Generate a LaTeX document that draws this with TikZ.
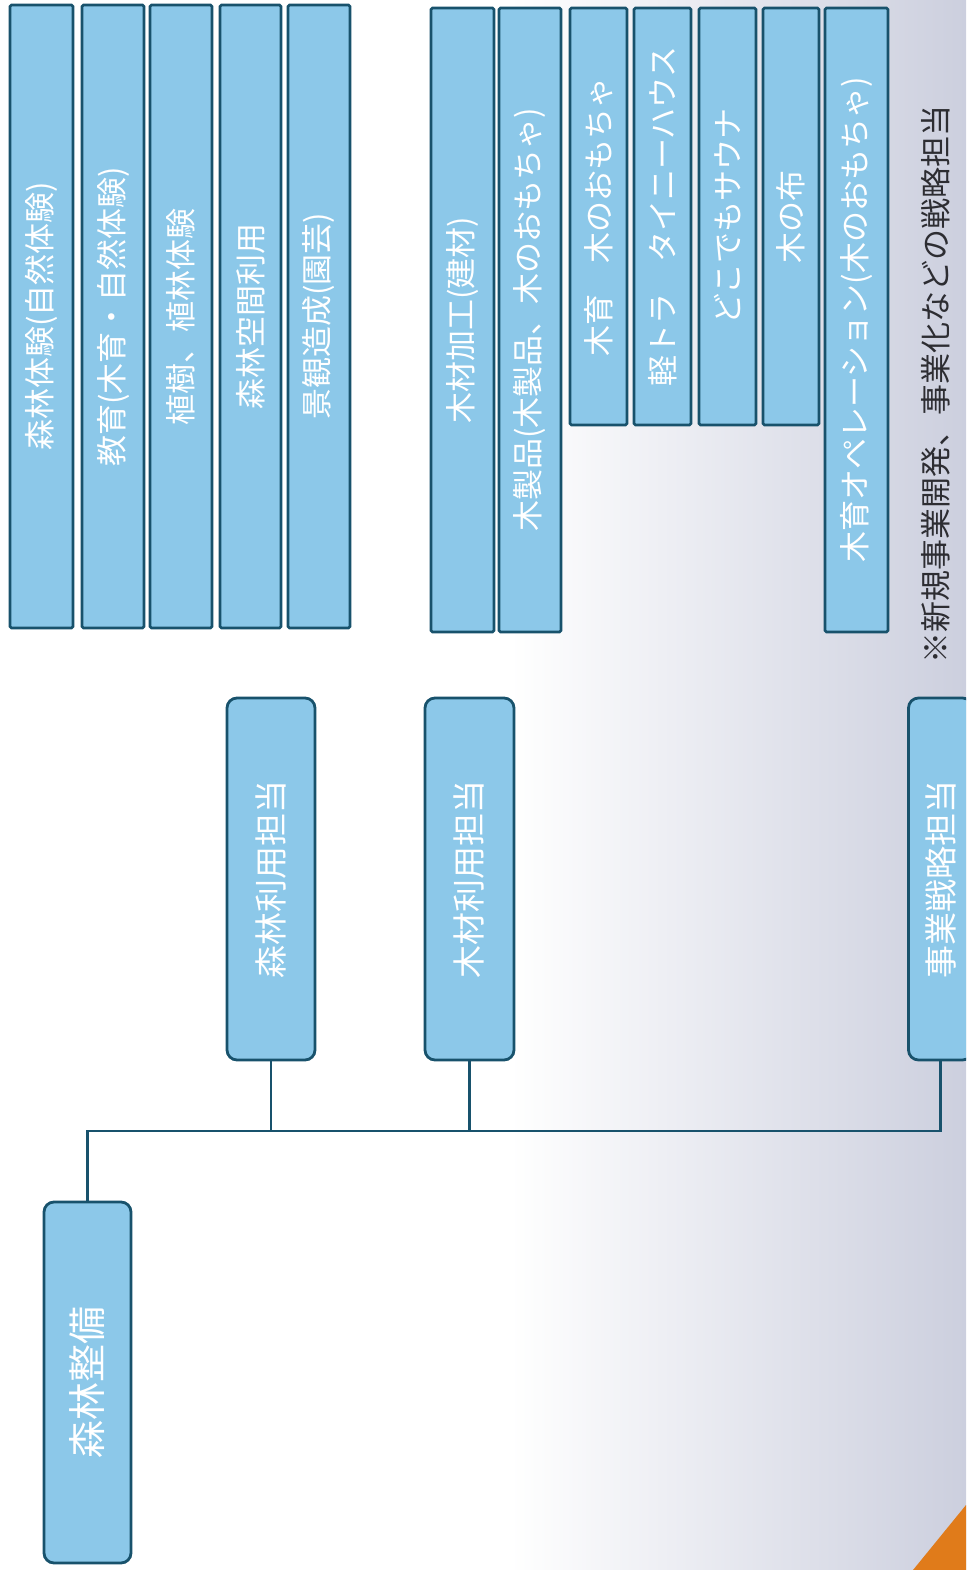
\documentclass[tikz,border=0pt]{standalone}
\usepackage{fontspec}
\setmainfont{Noto Sans CJK JP}
\definecolor{boxfill}{RGB}{140,200,233}
\definecolor{boxline}{RGB}{24,82,108}
\definecolor{bgright}{RGB}{204,207,222}
\definecolor{orangec}{RGB}{224,123,26}
\definecolor{notecol}{RGB}{45,45,50}
\begin{document}
\begin{tikzpicture}[x=1pt,y=-1pt,
  leaf/.style={draw=boxline, line width=2.8pt, fill=boxfill, rounded corners=1.5pt, inner sep=0pt, text=white, font=\fontsize{31}{31}\selectfont},
  mid/.style={draw=boxline, line width=2.8pt, fill=boxfill, rounded corners=10pt, inner sep=0pt, text=white, font=\fontsize{33}{33}\selectfont},
  conn/.style={draw=boxline, line width=2.4pt}]
\useasboundingbox (0,0) rectangle (966,1570);
\clip (0,0) rectangle (966,1570);
\fill[white] (0,0) rectangle (966,1570);
\shade[left color=white, right color=bgright] (510,0) rectangle (966,1570);
\fill[orangec] (966,1505) -- (913,1570) -- (966,1570) -- cycle;

% leaves, group A
\node[leaf, minimum width=63pt, minimum height=623pt] (a1) at (41.5,316.5) {\rotatebox{90}{森林体験(自然体験)}};
\node[leaf, minimum width=62pt, minimum height=623pt] (a2) at (113,316.5) {\rotatebox{90}{教育(木育・自然体験)}};
\node[leaf, minimum width=62pt, minimum height=623pt] (a3) at (181,316.5) {\rotatebox{90}{植樹、植林体験}};
\node[leaf, minimum width=61pt, minimum height=623pt] (a4) at (250.5,316.5) {\rotatebox{90}{森林空間利用}};
\node[leaf, minimum width=62pt, minimum height=623pt] (a5) at (319,316.5) {\rotatebox{90}{景観造成(園芸)}};

% leaves, group B
\node[leaf, minimum width=63pt, minimum height=624pt] (b1) at (462.5,320) {\rotatebox{90}{木材加工(建材)}};
\node[leaf, minimum width=62pt, minimum height=624pt] (b2) at (530,320) {\rotatebox{90}{木製品(木製品、木のおもちゃ)}};
\node[leaf, minimum width=57pt, minimum height=417pt] (b3) at (598.5,216.5) {\rotatebox{90}{木育　木のおもちゃ}};
\node[leaf, minimum width=57pt, minimum height=417pt] (b4) at (662.5,216.5) {\rotatebox{90}{軽トラ　タイニーハウス}};
\node[leaf, minimum width=57pt, minimum height=417pt] (b5) at (727.5,216.5) {\rotatebox{90}{どこでもサウナ}};
\node[leaf, minimum width=56pt, minimum height=417pt] (b6) at (791,216.5) {\rotatebox{90}{木の布}};
\node[leaf, minimum width=63pt, minimum height=624pt] (b7) at (856.5,320) {\rotatebox{90}{木育オペレーション(木のおもちゃ)}};

% note
\node[inner sep=0pt, text=notecol, font=\fontsize{31}{31}\selectfont] (note) at (936,384) {\rotatebox{90}{※新規事業開発、事業化などの戦略担当}};

% middle level
\node[mid, minimum width=88pt, minimum height=362pt] (m1) at (271,879) {\rotatebox{90}{森林利用担当}};
\node[mid, minimum width=89pt, minimum height=362pt] (m2) at (469.5,879) {\rotatebox{90}{木材利用担当}};
\node[mid, minimum width=64pt, minimum height=362pt] (m3) at (940.5,879) {\rotatebox{90}{事業戦略担当}};

% root
\node[mid, minimum width=87pt, minimum height=361pt, font=\fontsize{38}{38}\selectfont] (root) at (87.5,1382.5) {\rotatebox{90}{森林整備}};

% connectors
\coordinate (bus) at (0,1131);
\draw[conn] (root.north) -- (root.north |- bus) -- (m3.south |- bus) -- (m3.south);
\draw[conn] (m1.south) -- (m1.south |- bus);
\draw[conn] (m2.south) -- (m2.south |- bus);
\end{tikzpicture}
\end{document}
